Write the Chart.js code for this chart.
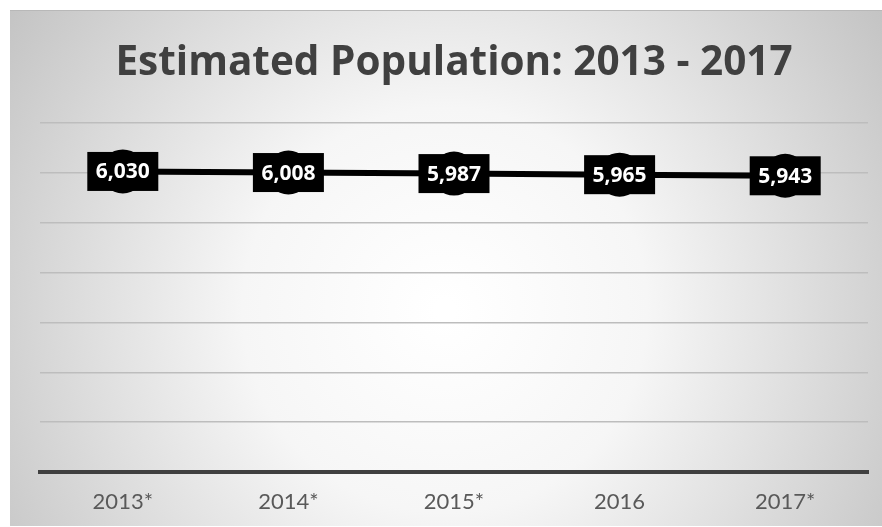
<!DOCTYPE html>
<html>
<head>
<meta charset="utf-8">
<script src="https://cdn.jsdelivr.net/npm/chart.js@4.4.1/dist/chart.umd.min.js"></script>
<style>
  html, body { margin: 0; padding: 0; background: #fff; overflow: hidden; }
  #wrap { width: 882px; height: 527px; position: relative; }
</style>
</head>
<body>
<div id="wrap"><canvas id="c"></canvas></div>
<script>
  var years = ['2013*', '2014*', '2015*', '2016', '2017*'];
  var population = [6030, 6008, 5987, 5965, 5943];
  var yMin = 0;
  var yMax = 7000;
  var yStep = 1000;

  var TITLE_FONT = '"Open Sans", sans-serif';
  var AXIS_FONT = 'Lato, "Open Sans", sans-serif';

  // radial grey backdrop with a thin top border, like the office chart panel
  var panelBg = {
    id: 'panelBg',
    beforeDraw: function (chart) {
      var ctx = chart.ctx;
      var w = chart.width, h = chart.height;
      ctx.save();
      ctx.fillStyle = '#ffffff';
      ctx.fillRect(0, 0, w, h);
      var g = ctx.createRadialGradient(445, 310, 10, 445, 310, 560);
      g.addColorStop(0, '#ffffff');
      g.addColorStop(0.35, '#f6f6f6');
      g.addColorStop(1, '#bfbfbf');
      ctx.fillStyle = g;
      ctx.fillRect(10, 10, w - 10, h - 11);
      ctx.fillStyle = '#b8b8b8';
      ctx.fillRect(10, 10, w - 10, 1);
      ctx.restore();
    }
  };

  // black boxed value labels sitting on the markers
  var boxLabels = {
    id: 'boxLabels',
    afterDatasetsDraw: function (chart) {
      var ctx = chart.ctx;
      var meta = chart.getDatasetMeta(0);
      ctx.save();
      ctx.font = 'bold 21px ' + TITLE_FONT;
      ctx.textAlign = 'center';
      ctx.textBaseline = 'middle';
      meta.data.forEach(function (pt, i) {
        var txt = population[i].toLocaleString('en-US');
        var bw = 71, bh = 39;
        ctx.fillStyle = '#000000';
        ctx.fillRect(pt.x - bw / 2, pt.y - bh / 2, bw, bh);
        ctx.fillStyle = '#ffffff';
        ctx.fillText(txt, pt.x, pt.y + 1);
      });
      ctx.restore();
    }
  };

  new Chart(document.getElementById('c').getContext('2d'), {
    type: 'line',
    data: {
      labels: years,
      datasets: [{
        data: population,
        borderColor: '#000000',
        backgroundColor: '#000000',
        borderWidth: 6,
        tension: 0,
        pointRadius: 22,
        pointHoverRadius: 22,
        pointBorderWidth: 0,
        pointBackgroundColor: '#000000'
      }]
    },
    plugins: [panelBg, boxLabels],
    options: {
      responsive: true,
      maintainAspectRatio: false,
      animation: false,
      layout: { autoPadding: false, padding: { left: 40, right: 14, top: 0, bottom: 0 } },
      plugins: {
        legend: { display: false },
        tooltip: { enabled: false },
        title: {
          display: true,
          text: 'Estimated Population: 2013 - 2017',
          color: '#404040',
          font: { family: TITLE_FONT, size: 40.5, weight: 'bold' },
          padding: { top: 39.5, bottom: 35 }
        }
      },
      scales: {
        x: {
          offset: true,
          grid: { display: false, drawTicks: false },
          border: { display: true, color: '#404040', width: 4 },
          ticks: {
            color: '#595959',
            font: { family: AXIS_FONT, size: 22 },
            padding: 17
          },
          afterFit: function (scale) { scale.height = 55; }
        },
        y: {
          min: yMin,
          max: yMax,
          ticks: { display: false, stepSize: yStep },
          grid: { color: '#bdbdbd', lineWidth: 1.5, drawTicks: false },
          border: { display: false }
        }
      }
    }
  });
</script>
</body>
</html>
